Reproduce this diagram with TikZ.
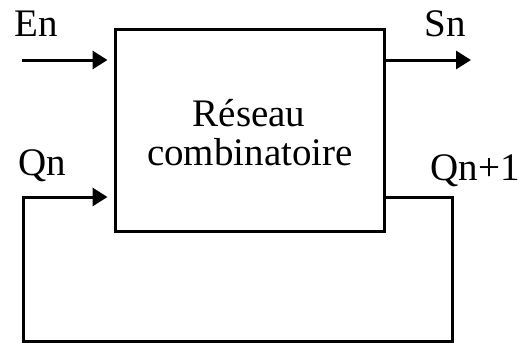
\documentclass[tikz,border=0pt]{standalone}
\usepackage{fontspec}
\setmainfont{Liberation Serif}
\usetikzlibrary{arrows.meta}

\begin{document}
\begin{tikzpicture}[x=1pt, y=-1pt, line width=3pt,
    fleche/.style={-{Triangle[length=15pt,width=18pt]}},
    lbl/.style={font=\fontsize{39}{39}\selectfont, inner sep=0pt, anchor=base}]
    \useasboundingbox (0,0) rectangle (523,346);

    % Combinational block
    \node[draw, minimum width=269pt, minimum height=202pt, inner sep=0pt] (reseau) at (249.5,130) {};
    \node[lbl] (ligne1) at (249,126) {Réseau};
    \node[lbl] (ligne2) at (250,165) {combinatoire};

    % Input and output
    \coordinate (en) at (22,60);
    \coordinate (sn) at (471,60);
    \draw[fleche, shorten >=6pt] (en) -- (en -| reseau.west);
    \draw[fleche] (sn -| reseau.east) -- (sn);
    \node[lbl] (en-lbl) at (36,36) {En};
    \node[lbl] (sn-lbl) at (445,36) {Sn};

    % Feedback loop
    \coordinate (retour) at (452,197);
    \coordinate (coinbd) at (452,341);
    \coordinate (coinbg) at (23,341);
    \coordinate (qn) at (23,197);
    \draw[fleche, shorten >=6pt] (retour -| reseau.east) -- (retour) -- (coinbd)
        -- (coinbg) -- (qn) -- (qn -| reseau.west);
    \node[lbl] (qn-lbl) at (42,175) {Qn};
    \node[lbl] (qn1-lbl) at (475,180) {Qn+1};

\end{tikzpicture}
\end{document}
